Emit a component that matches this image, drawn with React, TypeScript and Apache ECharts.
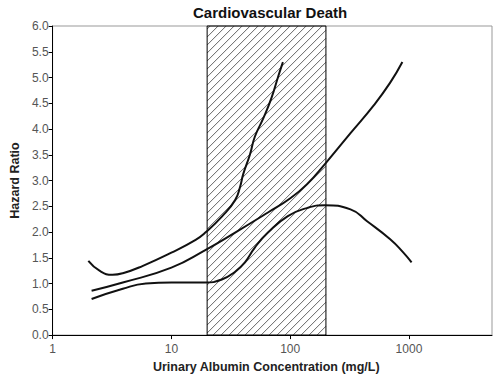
import React, { useEffect, useRef } from "react";
import * as echarts from "echarts";

const title = "Cardiovascular Death";
const xName = "Urinary Albumin Concentration (mg/L)";
const yName = "Hazard Ratio";

const yTicks = [0, 0.5, 1, 1.5, 2, 2.5, 3, 3.5, 4, 4.5, 5, 5.5, 6];
const xRange = [1, 5000];
const shadedRange = [20, 200];

const curveA: [number, number][] = [
  [2.0, 1.44], [2.5, 1.245], [3.2, 1.17], [3.9, 1.2], [5.7, 1.34], [10, 1.6],
  [16, 1.85], [19.3, 1.99], [26.6, 2.3], [34.4, 2.62], [37.9, 2.88],
  [40.2, 3.12], [45.8, 3.5], [50.4, 3.85], [59.2, 4.2], [69.5, 4.6], [80, 5.05], [86.9, 5.3],
];
const curveB: [number, number][] = [
  [2.13, 0.86], [3.9, 1.02], [10, 1.31], [19.3, 1.65], [34.4, 1.99], [65, 2.38],
  [101, 2.66], [140, 2.94], [196, 3.32], [322, 3.92], [505, 4.46], [695, 4.9], [880, 5.3],
];
const curveC: [number, number][] = [
  [2.13, 0.7], [3.9, 0.9], [6.1, 1.0], [10, 1.02], [19.3, 1.02], [26.6, 1.08],
  [34.4, 1.23], [41.6, 1.41], [50.4, 1.7], [65, 1.99], [95.6, 2.31], [140, 2.47],
  [196, 2.52], [322, 2.44], [444, 2.21], [695, 1.86], [898, 1.6], [1052, 1.41],
];

const FONT = "'Liberation Sans', Arial, sans-serif";

export default function App() {
  const ref = useRef<HTMLDivElement>(null);
  useEffect(() => {
    if (!ref.current) return;
    const chart = echarts.init(ref.current, undefined, { renderer: "svg" });
    const lineStyle = { color: "#111", width: 2 };
    chart.setOption({
      animation: false,
      textStyle: { fontFamily: FONT },
      title: {
        text: title,
        left: 193,
        top: 5,
        padding: 0,
        textStyle: { fontSize: 15, fontWeight: "bold", color: "#111", fontFamily: FONT },
      },
      grid: {
        left: 49, right: 8, top: 26, bottom: 42,
        show: true, borderColor: "#999", borderWidth: 1, backgroundColor: "transparent",
      },
      xAxis: {
        type: "log",
        logBase: 10,
        min: xRange[0],
        max: xRange[1],
        name: xName,
        nameLocation: "middle",
        nameGap: 22,
        nameTextStyle: { fontSize: 12.5, fontWeight: "bold", color: "#222", fontFamily: FONT, padding: [0, 12, 0, 0] },
        axisLine: { lineStyle: { color: "#000", width: 1 } },
        axisTick: { length: 4, lineStyle: { color: "#000" } },
        axisLabel: {
          fontSize: 12, color: "#555", margin: 8, showMaxLabel: false,
          formatter: (v: number) => String(Math.round(v)),
        },
        splitLine: { show: false },
        minorTick: { show: false },
      },
      yAxis: {
        type: "value",
        min: 0,
        max: 6,
        interval: 0.5,
        name: yName,
        nameLocation: "middle",
        nameGap: 30,
        nameTextStyle: { fontSize: 12.5, fontWeight: "bold", color: "#222", fontFamily: FONT },
        axisLine: { show: true, lineStyle: { color: "#000", width: 1 } },
        axisTick: { show: true, length: 4, lineStyle: { color: "#000" } },
        axisLabel: {
          fontSize: 12, color: "#555", margin: 4,
          formatter: (v: number) => (yTicks.includes(v) ? v.toFixed(1) : ""),
        },
        splitLine: { show: false },
      },
      series: [
        {
          type: "custom",
          clip: false,
          data: [[shadedRange[0], shadedRange[1]]],
          renderItem: (params: any, api: any) => {
            const p0 = api.coord([api.value(0), 6]);
            const p1 = api.coord([api.value(1), 0]);
            const x0 = p0[0], y0 = p0[1], x1 = p1[0], y1 = p1[1];
            const children: any[] = [];
            const step = 8;
            for (let k = x0 + y0 + 3; k < x1 + y1; k += step) {
              const sx = Math.max(x0, k - y1);
              const ex = Math.min(x1, k - y0);
              if (ex <= sx) continue;
              children.push({
                type: "line",
                shape: { x1: sx, y1: k - sx, x2: ex, y2: k - ex },
                style: { stroke: "#666", lineWidth: 1 },
              });
            }
            children.push({
              type: "rect",
              shape: { x: x0, y: y0, width: x1 - x0, height: y1 - y0 },
              style: { fill: "none", stroke: "#000", lineWidth: 1 },
            });
            return { type: "group", children };
          },
        },
        { type: "line", data: curveA, smooth: 0.5, showSymbol: false, lineStyle, z: 3 },
        { type: "line", data: curveB, smooth: 0.5, showSymbol: false, lineStyle, z: 3 },
        { type: "line", data: curveC, smooth: 0.5, showSymbol: false, lineStyle, z: 3 },
      ],
    });
    return () => chart.dispose();
  }, []);
  return <div ref={ref} style={{ width: 500, height: 378, position: "absolute", left: 0, top: 0, background: "#fff" }} />;
}
